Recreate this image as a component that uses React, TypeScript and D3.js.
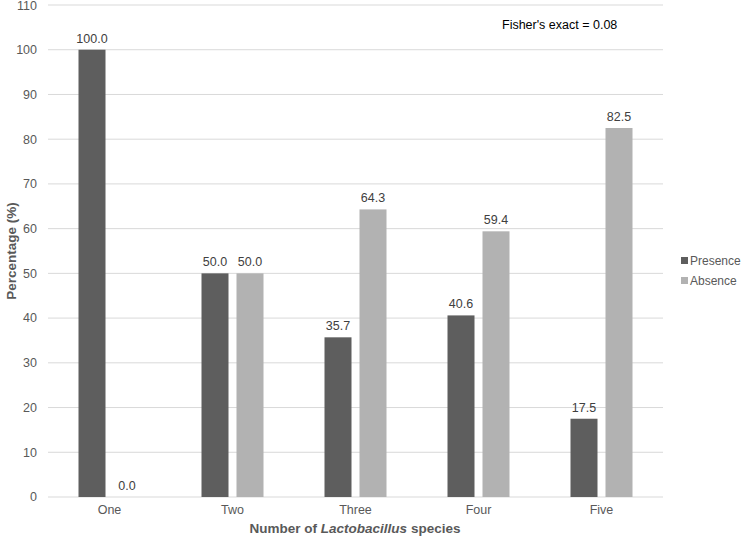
import React from "react";
import * as d3 from "d3";

const categories = ["One", "Two", "Three", "Four", "Five"];
const presence = [100.0, 50.0, 35.7, 40.6, 17.5];
const absence = [0.0, 50.0, 64.3, 59.4, 82.5];
const seriesNames = ["Presence", "Absence"];
const yTicks = [0, 10, 20, 30, 40, 50, 60, 70, 80, 90, 100, 110];

const W = 742, H = 537;
const left = 48, right = 663, top = 5, bottom = 497;
const colors = ["#5e5e5e", "#b2b2b2"];
const font = "Arial, 'Liberation Sans', sans-serif";

export default function App() {
  const x = d3.scaleBand<string>().domain(categories).range([left, right]);
  const y = d3.scaleLinear().domain([0, 110]).range([bottom, top]);
  const barW = 27;
  const gap = 8;
  const series = [presence, absence];
  return (
    <svg width={W} height={H} style={{ position: "absolute", left: 0, top: 0, background: "#fff" }} fontFamily={font}>
      {yTicks.map((t) => (
        <g key={t}>
          <line x1={left} x2={right} y1={y(t)} y2={y(t)} stroke="#d9d9d9" strokeWidth={1} />
          <text x={37} y={Math.max(y(t), 6)} dy="0.35em" textAnchor="end" fontSize={12.5} fill="#595959">{t}</text>
        </g>
      ))}
      {categories.map((c, i) => {
        const cx = x(c)! + x.bandwidth() / 2;
        return (
          <g key={c}>
            {series.map((s, j) => {
              const bx = j === 0 ? cx - gap / 2 - barW : cx + gap / 2;
              const v = s[i];
              return (
                <g key={j}>
                  <rect x={bx} y={y(v)} width={barW} height={y(0) - y(v)} fill={colors[j]} />
                  <text x={bx + barW / 2} y={y(v) - 7} textAnchor="middle" fontSize={12.5} fill="#404040">{v.toFixed(1)}</text>
                </g>
              );
            })}
            <text x={cx} y={bottom + 17} textAnchor="middle" fontSize={12.5} fill="#595959">{c}</text>
          </g>
        );
      })}
      <text x={355} y={533} textAnchor="middle" fontSize={13.5} fontWeight="bold" fill="#595959">
        Number of <tspan fontStyle="italic">Lactobacillus</tspan> species
      </text>
      <text transform={`translate(16,${(top + bottom) / 2}) rotate(-90)`} textAnchor="middle" fontSize={13.5} fontWeight="bold" fill="#595959">Percentage (%)</text>
      <text x={502} y={29} fontSize={12.5} fill="#000">Fisher's exact = 0.08</text>
      {seriesNames.map((n, j) => (
        <g key={n}>
          <rect x={681} y={257 + j * 20} width={7} height={7} fill={colors[j]} />
          <text x={690} y={261 + j * 20} dy="0.35em" fontSize={12} fill="#595959">{n}</text>
        </g>
      ))}
    </svg>
  );
}
